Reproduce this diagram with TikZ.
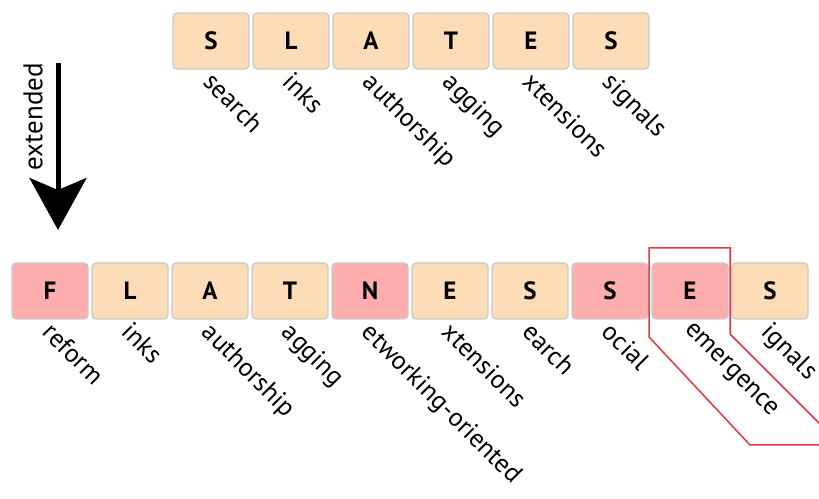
\documentclass[tikz,border=0pt]{standalone}
\usepackage{fontspec}
\setmainfont{PT Sans}
\usetikzlibrary{arrows.meta}
\definecolor{boxorange}{HTML}{FCDDB8}
\definecolor{boxred}{HTML}{FDADAD}
\definecolor{boxline}{HTML}{C9C9C9}
\definecolor{markred}{HTML}{E8363C}
\begin{document}
\begin{tikzpicture}[x=1pt, y=1pt,
  letterbox/.style={draw=boxline, fill=boxorange, rounded corners=4pt, line width=1.2pt,
    minimum width=76pt, minimum height=56pt, inner sep=0pt,
    font=\fontsize{25}{25}\selectfont\bfseries},
  newbox/.style={letterbox, fill=boxred},
  wordlabel/.style={rotate=-45, anchor=north west, inner sep=0pt,
    font=\fontsize{26}{26}\selectfont}]
  \useasboundingbox (0,0) rectangle (819,498);

  % old acronym
  \foreach \ch/\word [count=\i] in {S/search, L/inks, A/authorship, T/agging, E/xtensions, S/signals} {
    \node[letterbox] (t\i) at (131+80*\i, 457) {\ch};
    \node[wordlabel] (tw\i) at ([xshift=4pt, yshift=-1pt]t\i.south) {\word};
  }

  % extended acronym
  \foreach \ch/\word/\kind [count=\i] in {F/reform/newbox, L/inks/letterbox, A/authorship/letterbox,
      T/agging/letterbox, N/etworking-oriented/newbox, E/xtensions/letterbox, S/earch/letterbox,
      S/ocial/newbox, E/emergence/newbox, S/ignals/letterbox} {
    \node[\kind] (b\i) at (-30+80*\i, 207) {\ch};
    \node[wordlabel] (bw\i) at ([xshift=4pt, yshift=-1pt]b\i.south) {\word};
  }

  % arrow
  \coordinate (arrtop) at (58, 435);
  \coordinate (arrtip) at (58, 268);
  \draw[line width=5pt, -{Stealth[length=52pt, width=57pt, inset=12pt]}] (arrtop) -- (arrtip);
  \node[rotate=90, anchor=south east, inner sep=0pt, font=\fontsize{27}{27}\selectfont]
    (ext) at ([xshift=-15pt]arrtop) {extended};

  % highlight
  \begin{scope}
    \clip (0,0) rectangle (819,498);
    \draw[markred, line width=1.5pt] (649,250) -- (730,250) -- (730,164) -- (841,53)
      -- (750,53) -- (649,161) -- cycle;
  \end{scope}
\end{tikzpicture}
\end{document}
